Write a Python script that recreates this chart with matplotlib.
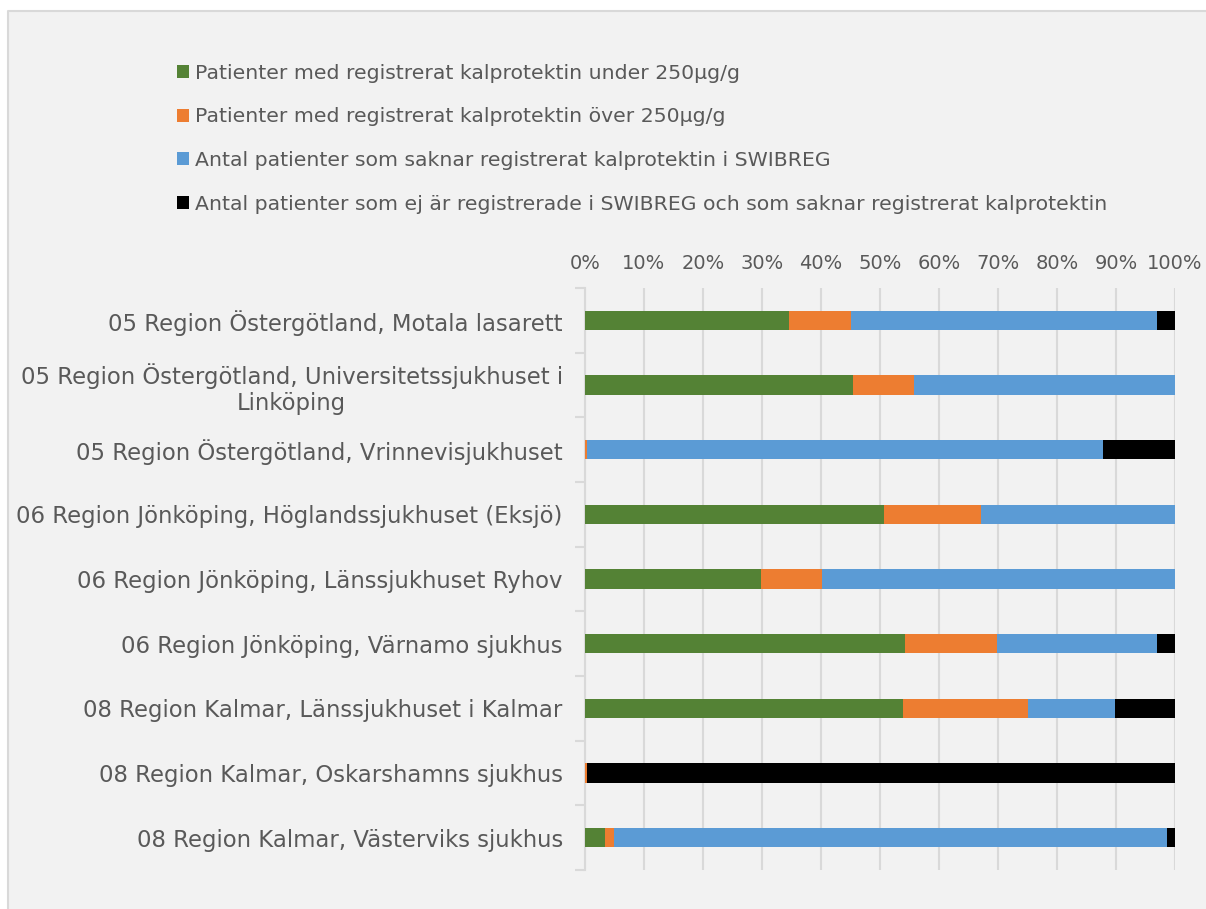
import numpy as np
import matplotlib
matplotlib.use('Agg')
import matplotlib.pyplot as plt
from matplotlib.patches import Rectangle
from matplotlib.lines import Line2D
from matplotlib.ticker import FixedLocator, PercentFormatter

plt.rcParams['font.family'] = ['DejaVu Sans']

# sjukhus, uppifrån och ned
hospitals = [
    '05 Region Östergötland, Motala lasarett',
    '05 Region Östergötland, Universitetssjukhuset i\nLinköping',
    '05 Region Östergötland, Vrinnevisjukhuset',
    '06 Region Jönköping, Höglandssjukhuset (Eksjö)',
    '06 Region Jönköping, Länssjukhuset Ryhov',
    '06 Region Jönköping, Värnamo sjukhus',
    '08 Region Kalmar, Länssjukhuset i Kalmar',
    '08 Region Kalmar, Oskarshamns sjukhus',
    '08 Region Kalmar, Västerviks sjukhus',
]

# andelar i procent
under_250 = [34.6, 45.5, 0.0, 50.7, 29.8, 54.3, 53.9, 0.0, 3.4]
over_250 = [10.4, 10.3, 0.4, 16.4, 10.3, 15.6, 21.2, 0.4, 1.5]
saknar_kalpro = [52.0, 44.2, 87.4, 32.9, 59.9, 27.0, 14.8, 0.0, 93.7]
ej_swibreg = [3.0, 0.0, 12.2, 0.0, 0.0, 3.1, 10.1, 99.6, 1.4]

series_names = [
    'Patienter med registrerat kalprotektin under 250µg/g',
    'Patienter med registrerat kalprotektin över 250µg/g',
    'Antal patienter som saknar registrerat kalprotektin i SWIBREG',
    'Antal patienter som ej är registrerade i SWIBREG och som saknar registrerat kalprotektin',
]
colors = ['#548235', '#ed7d31', '#5b9bd5', '#000000']

text_col = '#595959'
grid_col = '#d9d9d9'

fig = plt.figure(figsize=(12.06, 9.09), dpi=100, facecolor='white')
# chart area: grey fill, border only on top and left (rest runs off the image)
x0, y0 = 8 / 1206, 1 - 11 / 909
fig.patches.append(Rectangle((x0, -0.1), 1.2, y0 + 0.1, transform=fig.transFigure,
                             facecolor='#f2f2f2', edgecolor='none', zorder=-10))
fig.lines.append(Line2D([x0, x0, 1.2], [-0.1, y0, y0], transform=fig.transFigure,
                        color='#d9d9d9', linewidth=1.5, zorder=-9))

ax = fig.add_axes([585 / 1206, 1 - 870 / 909, 590 / 1206, 582 / 909])
ax.set_facecolor('none')

y = np.arange(len(hospitals))
data = np.array([under_250, over_250, saknar_kalpro, ej_swibreg]) / 100.0
left = np.zeros(len(hospitals))
handles = []
for vals, name, c in zip(data, series_names, colors):
    h = ax.barh(y, vals, left=left, height=0.3, color=c, label=name, zorder=3)
    handles.append(h)
    left += vals

ax.set_xlim(0, 1)
ax.set_ylim(len(hospitals) - 0.5, -0.5)
ax.xaxis.set_major_locator(FixedLocator(np.linspace(0, 1, 11)))
ax.xaxis.set_major_formatter(PercentFormatter(1.0, decimals=0))
ax.xaxis.tick_top()
ax.tick_params(axis='x', length=0, pad=11, labelsize=14, colors=text_col)
ax.grid(axis='x', color=grid_col, linewidth=1.5, zorder=0)

ax.set_yticks(y)
ax.set_yticklabels(hospitals, multialignment='center')
ax.yaxis.set_minor_locator(FixedLocator(np.arange(-0.5, len(hospitals) + 0.5, 1)))
ax.tick_params(axis='y', which='major', length=0, pad=16, labelsize=16.4, colors=text_col)
ax.tick_params(axis='y', which='minor', length=7, width=1.5, color=grid_col)

for s in ['top', 'right', 'bottom']:
    ax.spines[s].set_visible(False)
ax.spines['left'].set_color(grid_col)
ax.spines['left'].set_linewidth(1.5)

leg = fig.legend(handles=handles, loc='upper left', bbox_to_anchor=(177 / 1206, 1 - 64 / 909),
                 frameon=False, fontsize=14.7, handlelength=0.6, handleheight=0.6,
                 handletextpad=0.3, labelspacing=1.2, borderpad=0, borderaxespad=0)
for t in leg.get_texts():
    t.set_color(text_col)

fig.savefig('out.png', dpi=100, facecolor='white')
